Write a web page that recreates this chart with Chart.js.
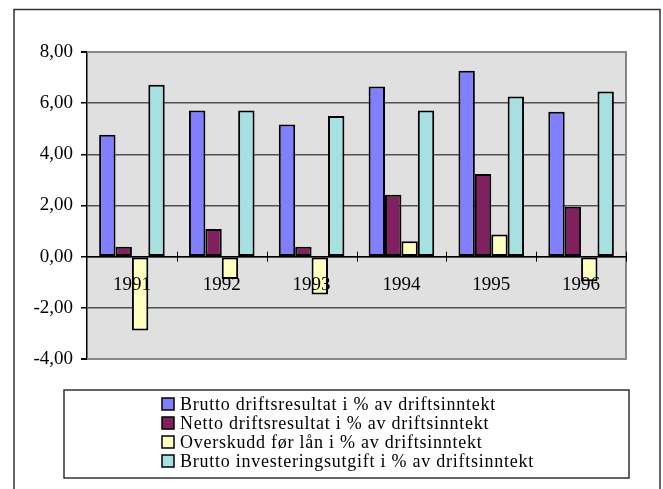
<!DOCTYPE html>
<html>
<head>
<meta charset="utf-8">
<script src="https://cdn.jsdelivr.net/npm/chart.js@4/dist/chart.umd.min.js"></script>
<style>
  html, body { margin: 0; padding: 0; background: #fff; }
  #wrap { width: 663px; height: 489px; position: relative; }
</style>
</head>
<body>
<div id="wrap"><canvas id="c" width="663" height="489"></canvas></div>
<script>
const categories = ['1991', '1992', '1993', '1994', '1995', '1996'];
const seriesNames = [
  'Brutto driftsresultat i % av driftsinntekt',
  'Netto driftsresultat i % av driftsinntekt',
  'Overskudd før lån i % av driftsinntekt',
  'Brutto investeringsutgift i % av driftsinntekt'
];
const brutto = [4.77, 5.71, 5.17, 6.65, 7.27, 5.66];
const netto = [0.39, 1.08, 0.39, 2.42, 3.23, 1.95];
const overskudd = [-2.89, -0.87, -1.48, 0.60, 0.87, -0.96];
const investering = [6.72, 5.71, 5.50, 5.71, 6.26, 6.46];
const yTicks = [-4, -2, 0, 2, 4, 6, 8];

const colors = ['#8080ff', '#802060', '#ffffc0', '#a6e0e0'];
const FONT = '"Liberation Serif", "Times New Roman", serif';

const bgPlugin = {
  id: 'bg',
  beforeDraw(chart) {
    const {ctx, chartArea: a} = chart;
    ctx.save();
    ctx.fillStyle = '#e0e0e0';
    ctx.fillRect(a.left, a.top, a.right - a.left, a.bottom - a.top);
    ctx.strokeStyle = '#333';
    ctx.lineWidth = 1.5;
    ctx.strokeRect(14, 9.5, 646, 495);
    ctx.restore();
  },
  beforeDatasetsDraw(chart) {
    const {ctx, chartArea: a} = chart;
    ctx.save();
    ctx.strokeStyle = '#888';
    ctx.lineWidth = 2;
    ctx.beginPath();
    ctx.moveTo(a.left, a.top); ctx.lineTo(a.right, a.top);
    ctx.lineTo(a.right, a.bottom); ctx.lineTo(a.left, a.bottom);
    ctx.stroke();
    ctx.restore();
  },
  afterDraw(chart) {
    const {ctx} = chart;
    const xs = chart.scales.x, ys = chart.scales.y;
    const y0 = ys.getPixelForValue(0);
    const w = xs.width / categories.length;
    ctx.save();
    ctx.strokeStyle = '#000';
    ctx.lineWidth = 1;
    ctx.beginPath();
    for (let i = 1; i <= categories.length; i++) {
      const x = Math.round(xs.left + i * w) + 0.5;
      ctx.moveTo(x, y0 - 5); ctx.lineTo(x, y0 + 5);
    }
    ctx.stroke();
    // legend
    const lx = 64, ly = 390, lw = 565, lh = 88;
    ctx.fillStyle = '#fff';
    ctx.fillRect(lx, ly, lw, lh);
    ctx.strokeStyle = '#333';
    ctx.lineWidth = 1.5;
    ctx.strokeRect(lx, ly, lw, lh);
    ctx.font = '18px ' + FONT;
    ctx.textBaseline = 'middle';
    ctx.textAlign = 'left';
    if ('letterSpacing' in ctx) ctx.letterSpacing = '0.75px';
    chart.data.datasets.forEach((ds, i) => {
      const cy = 404 + i * 19;
      ctx.fillStyle = ds.backgroundColor;
      ctx.fillRect(162, cy - 6, 12, 12);
      ctx.strokeStyle = '#000';
      ctx.lineWidth = 1.5;
      ctx.strokeRect(162, cy - 6, 12, 12);
      ctx.fillStyle = '#000';
      ctx.fillText(ds.label, 180, cy + 1);
    });
    ctx.restore();
  }
};

const seriesData = [brutto, netto, overskudd, investering];

new Chart(document.getElementById('c'), {
  type: 'bar',
  data: {
    labels: categories,
    datasets: seriesData.map((d, i) => ({
      label: seriesNames[i],
      data: d,
      backgroundColor: colors[i],
      borderColor: '#000',
      borderWidth: 2,
      borderSkipped: false,
      categoryPercentage: 0.73,
      barPercentage: 1.0
    }))
  },
  options: {
    responsive: false,
    animation: false,
    devicePixelRatio: 1,
    layout: { padding: { left: 0, top: 52, right: 37, bottom: 130 } },
    plugins: { legend: { display: false }, tooltip: { enabled: false } },
    scales: {
      x: {
        position: { y: 0 },
        grid: { display: false, offset: true },
        border: { display: true, color: '#000', width: 1.5, z: 1 },
        ticks: {
          z: 1,
          color: '#000',
          font: { family: FONT, size: 19 },
          padding: 9,
          maxRotation: 0
        }
      },
      y: {
        min: -4,
        max: 8,
        afterBuildTicks(scale) { scale.ticks = yTicks.map(v => ({ value: v })); },
        afterFit(scale) { scale.width = 87; },
        grid: {
          color: ctx => (ctx.tick && (ctx.tick.value === 8 || ctx.tick.value === -4)) ? '#888' : '#505050',
          lineWidth: ctx => (ctx.tick && (ctx.tick.value === 8 || ctx.tick.value === -4)) ? 2 : 1.5,
          tickColor: '#000',
          tickLength: 6,
          drawTicks: true
        },
        border: { display: true, color: '#000', width: 1.5 },
        ticks: {
          color: '#000',
          font: { family: FONT, size: 19 },
          padding: 8,
          callback: v => v.toFixed(2).replace('.', ',')
        }
      }
    }
  },
  plugins: [bgPlugin]
});
</script>
</body>
</html>
